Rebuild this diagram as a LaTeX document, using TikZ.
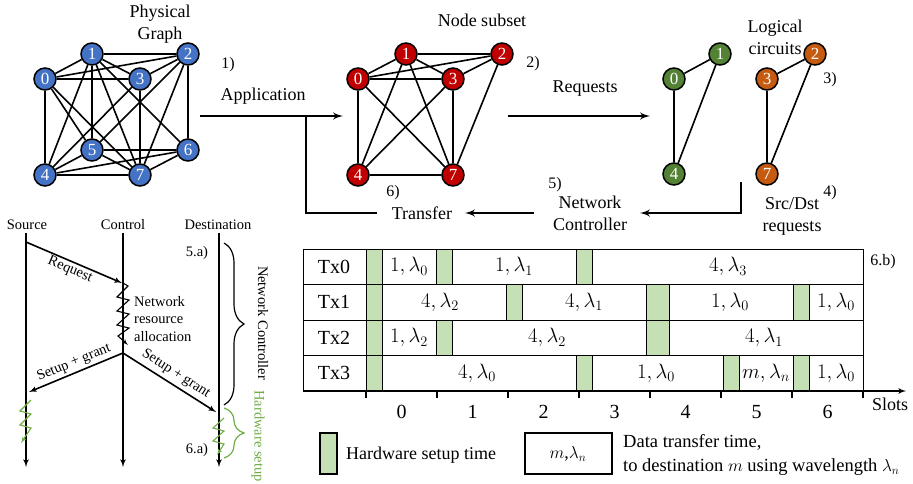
\documentclass[tikz,border=0pt]{standalone}
\usepackage{amsmath}
\usepackage{amssymb}
\usepackage{xcolor}
\usepackage{fontspec}
\setmainfont{Liberation Serif}
\usepackage{tikz}
\usetikzlibrary{shapes,arrows,decorations.pathreplacing}
\definecolor{physblue}{HTML}{4472C4}
\definecolor{subred}{HTML}{C00000}
\definecolor{circgreen}{HTML}{548235}
\definecolor{circorange}{HTML}{C55A11}
\definecolor{setupfill}{HTML}{C5E0B4}
\definecolor{hwgreen}{HTML}{70AD47}
\tikzstyle{vertex} = [circle, draw, line width=1.5pt, minimum size=22pt, inner sep=0pt, text=white, font=\fontsize{17}{17}\selectfont]
\tikzstyle{link} = [draw, line width=1.6pt]
\tikzstyle{line} = [draw, line width=2.4pt, -latex']
\tikzstyle{txt} = [font=\fontsize{18}{22}\selectfont, align=center, inner sep=0pt]
\tikzstyle{stepno} = [font=\fontsize{16}{18}\selectfont, inner sep=0pt]
\tikzstyle{small} = [font=\fontsize{14.5}{17.5}\selectfont, inner sep=0pt]
\tikzstyle{lifeline} = [draw, line width=1.6pt, -latex']
\tikzstyle{msg} = [draw, line width=1.6pt, -latex']
\tikzstyle{zig} = [draw, line width=1.1pt, -latex']
\tikzstyle{rowbox} = [draw, line width=1pt, fill=white]
\tikzstyle{setupbar} = [draw, line width=1pt, fill=setupfill]
\tikzstyle{cell} = [font=\fontsize{20}{22}\selectfont, inner sep=0pt]

\begin{document}
\begin{tikzpicture}[x=1pt,y=-1pt]
\useasboundingbox (0,0) rectangle (913,483);
% physical graph
\node [vertex, fill=physblue] (b0) at (45,79) {0};
\node [vertex, fill=physblue] (b1) at (92,54) {1};
\node [vertex, fill=physblue] (b2) at (188,54) {2};
\node [vertex, fill=physblue] (b3) at (140,79) {3};
\node [vertex, fill=physblue] (b4) at (45,175) {4};
\node [vertex, fill=physblue] (b5) at (92,150) {5};
\node [vertex, fill=physblue] (b6) at (188,150) {6};
\node [vertex, fill=physblue] (b7) at (140,175) {7};
\path [link] (b0) -- (b1) (b0) -- (b2) (b0) -- (b3) (b0) -- (b4) (b0) -- (b5) (b0) -- (b7);
\path [link] (b1) -- (b2) (b1) -- (b3) (b1) -- (b4) (b1) -- (b5) (b1) -- (b6) (b1) -- (b7);
\path [link] (b2) -- (b3) (b2) -- (b5) (b2) -- (b6) (b2) -- (b7);
\path [link] (b3) -- (b4) (b3) -- (b7);
\path [link] (b4) -- (b5) (b4) -- (b6) (b4) -- (b7);
\path [link] (b5) -- (b6) (b5) -- (b7) (b6) -- (b7);
\node [txt] (physlbl) at (160,24) {Physical\\Graph};

% node subset
\node [vertex, fill=subred] (r0) at (358,79) {0};
\node [vertex, fill=subred] (r1) at (406,54) {1};
\node [vertex, fill=subred] (r2) at (502,54) {2};
\node [vertex, fill=subred] (r3) at (453,79) {3};
\node [vertex, fill=subred] (r4) at (358,175) {4};
\node [vertex, fill=subred] (r7) at (453,175) {7};
\path [link] (r0) -- (r1) (r0) -- (r2) (r0) -- (r3) (r0) -- (r4) (r0) -- (r7);
\path [link] (r1) -- (r2) (r1) -- (r3) (r1) -- (r4) (r1) -- (r7);
\path [link] (r2) -- (r3) (r2) -- (r7) (r3) -- (r4) (r3) -- (r7) (r4) -- (r7);
\node [txt] (sublbl) at (482,20) {Node subset};

% logical circuits
\node [vertex, fill=circgreen] (g0) at (674,79) {0};
\node [vertex, fill=circgreen] (g1) at (720,54) {1};
\node [vertex, fill=circgreen] (g4) at (674,174) {4};
\path [link] (g0) -- (g1) (g0) -- (g4) (g1) -- (g4);
\node [vertex, fill=circorange] (o3) at (767,79) {3};
\node [vertex, fill=circorange] (o2) at (815,54) {2};
\node [vertex, fill=circorange] (o7) at (767,174) {7};
\path [link] (o3) -- (o2) (o3) -- (o7) (o2) -- (o7);
\node [txt] (logiclbl) at (775,37) {Logical\\circuits};

% workflow arrows
\coordinate (appfrom) at (200,116);
\coordinate (appto) at (343,116);
\coordinate (joint) at (306,116);
\coordinate (reqfrom) at (508,116);
\coordinate (reqto) at (650,116);
\coordinate (srcdst) at (741,182);
\coordinate (ctrlin) at (640,213);
\coordinate (ctrlout) at (534,213);
\coordinate (xferin) at (465,213);
\coordinate (xferout) at (377,213);
\path [line] (appfrom) -- (appto);
\path [line] (reqfrom) -- (reqto);
\path [line] (srcdst) |- (ctrlin);
\path [line] (ctrlout) -- (xferin);
\path [draw, line width=2.4pt] (xferout) -| (joint);
\node [stepno] (step1) at (228,65) {1)};
\node [txt] (applbl) at (263,96) {Application};
\node [stepno] (step2) at (533,64) {2)};
\node [txt] (reqlbl) at (585,89) {Requests};
\node [stepno] (step3) at (830,80) {3)};
\node [stepno] (step4) at (830,193) {4)};
\node [txt] (srcdstlbl) at (792,216) {Src/Dst\\requests};
\node [stepno] (step5) at (555,185) {5)};
\node [txt] (ctrllbl) at (590,213) {Network\\Controller};
\node [stepno] (step6) at (393,193) {6)};
\node [txt] (xferlbl) at (422,213) {Transfer};

% sequence diagram
\coordinate (srctop) at (26,233);
\coordinate (srcbot) at (26,467);
\coordinate (ctltop) at (123,233);
\coordinate (ctlbot) at (123,467);
\coordinate (dsttop) at (219,233);
\coordinate (dstbot) at (219,467);
\path [lifeline] (srctop) -- (srcbot);
\path [lifeline] (ctltop) -- (ctlbot);
\path [lifeline] (dsttop) -- (dstbot);
\node [small] (srchead) at (27,225) {Source};
\node [small] (ctlhead) at (123,225) {Control};
\node [small] (dsthead) at (218,225) {Destination};
\coordinate (askfrom) at (26,242);
\coordinate (askto) at (122,283);
\path [msg] (askfrom) -- (askto);
\node [small, rotate=-23] (asklbl) at (70,270) {Request};
\coordinate (alloc) at (123,283);
\draw [zig] (alloc) -- (128,286) -- (117,297) -- (129,300) -- (117,311) -- (129,314) -- (117,325) -- (129,328) -- (118,336) -- (128,345);
\node [small, anchor=west, align=left] (alloclbl) at (134,319) {Network\\resource\\allocation};
\coordinate (grant) at (123,353);
\coordinate (grantsrc) at (29,392);
\coordinate (grantdst) at (216,412);
\path [msg] (grant) -- (grantsrc);
\path [msg] (grant) -- (grantdst);
\node [small, rotate=22.5] (grantsrclbl) at (74,363) {Setup + grant};
\node [small, rotate=-33] (grantdstlbl) at (176,374) {Setup + grant};
\coordinate (hwsrc) at (31,400);
\coordinate (hwdst) at (224,418);
\draw [zig, hwgreen] (hwsrc) -- (20,411) -- (31,414) -- (20,425) -- (31,428) -- (21,443);
\draw [zig, hwgreen] (hwdst) -- (213,428) -- (224,431) -- (213,441) -- (224,444) -- (217,455);
\node [small] (step5a) at (197,253) {5.a)};
\node [small] (step6a) at (197,450) {6.a)};
\draw [line width=1.2pt, decorate, decoration={brace, amplitude=20pt}] (224,243) -- (224,405);
\node [small, rotate=-90] (ctrlbrace) at (263,323) {Network Controller};
\draw [line width=1.2pt, hwgreen, decorate, decoration={brace, amplitude=20pt}] (224,408) -- (224,458);
\node [small, rotate=-90, text=hwgreen] (hwbrace) at (258,436) {Hardware setup};

% schedule table
\draw [rowbox] (303,249) rectangle (863,284.5);
\draw [rowbox] (303,284.5) rectangle (863,320);
\draw [rowbox] (303,320) rectangle (863,355.5);
\draw [rowbox] (303,355.5) rectangle (863,391);
\node [cell] (tx0) at (334,266.75) {Tx0};
\node [cell] (tx1) at (334,302.25) {Tx1};
\node [cell] (tx2) at (334,337.75) {Tx2};
\node [cell] (tx3) at (334,373.25) {Tx3};
% Tx0
\draw [setupbar] (366,249) rectangle (382,284.5);
\draw [setupbar] (436,249) rectangle (452,284.5);
\draw [setupbar] (576,249) rectangle (592,284.5);
\node [cell] (c00) at (409,266.75) {$1,\lambda_0$};
\node [cell] (c01) at (514,266.75) {$1,\lambda_1$};
\node [cell] (c02) at (728,266.75) {$4,\lambda_3$};
% Tx1
\draw [setupbar] (366,284.5) rectangle (382,320);
\draw [setupbar] (506,284.5) rectangle (522,320);
\draw [setupbar] (646,284.5) rectangle (669,320);
\draw [setupbar] (793,284.5) rectangle (809,320);
\node [cell] (c10) at (440,302.25) {$4,\lambda_2$};
\node [cell] (c11) at (584,302.25) {$4,\lambda_1$};
\node [cell] (c12) at (730,302.25) {$1,\lambda_0$};
\node [cell] (c13) at (836,302.25) {$1,\lambda_0$};
% Tx2
\draw [setupbar] (366,320) rectangle (382,355.5);
\draw [setupbar] (436,320) rectangle (452,355.5);
\draw [setupbar] (646,320) rectangle (669,355.5);
\node [cell] (c20) at (409,337.75) {$1,\lambda_2$};
\node [cell] (c21) at (547,337.75) {$4,\lambda_2$};
\node [cell] (c22) at (764,337.75) {$4,\lambda_1$};
% Tx3
\draw [setupbar] (366,355.5) rectangle (382,391);
\draw [setupbar] (576,355.5) rectangle (592,391);
\draw [setupbar] (723,355.5) rectangle (739,391);
\draw [setupbar] (793,355.5) rectangle (809,391);
\node [cell] (c30) at (477,373.25) {$4,\lambda_0$};
\node [cell] (c31) at (656,373.25) {$1,\lambda_0$};
\node [cell] (c32) at (766,373.25) {$m,\lambda_n$};
\node [cell] (c33) at (836,373.25) {$1,\lambda_0$};
\node [stepno] (step6b) at (883,262) {6.b)};

% slot axis
\coordinate (axisfrom) at (303,391);
\coordinate (axisto) at (906,391);
\path [draw, line width=1.6pt, -latex'] (axisfrom) -- (axisto);
\draw [line width=1.6pt] (366,391) -- (366,398) (437,391) -- (437,398) (508,391) -- (508,398) (579,391) -- (579,398) (650,391) -- (650,398) (721,391) -- (721,398) (792,391) -- (792,398) (863,391) -- (863,398);
\node [cell] (s0) at (401.5,412) {0};
\node [cell] (s1) at (472.5,412) {1};
\node [cell] (s2) at (543.5,412) {2};
\node [cell] (s3) at (614.5,412) {3};
\node [cell] (s4) at (685.5,412) {4};
\node [cell] (s5) at (756.5,412) {5};
\node [cell] (s6) at (827.5,412) {6};
\node [txt] (slotlbl) at (890,404) {Slots};

% legend
\draw [setupbar, line width=1.3pt] (320,433) rectangle (337,474);
\node [txt, anchor=west] (hwkey) at (346,455) {Hardware setup time};
\draw [rowbox, line width=1.3pt] (525,433) rectangle (612,474);
\node [txt] (datakey) at (568,454) {$m$,$\lambda_n$};
\node [txt, anchor=west, align=left, font=\fontsize{18.5}{24}\selectfont] (datatext) at (623,455) {Data transfer time,\\to destination $m$ using wavelength $\lambda_n$};
\end{tikzpicture}
\end{document}
